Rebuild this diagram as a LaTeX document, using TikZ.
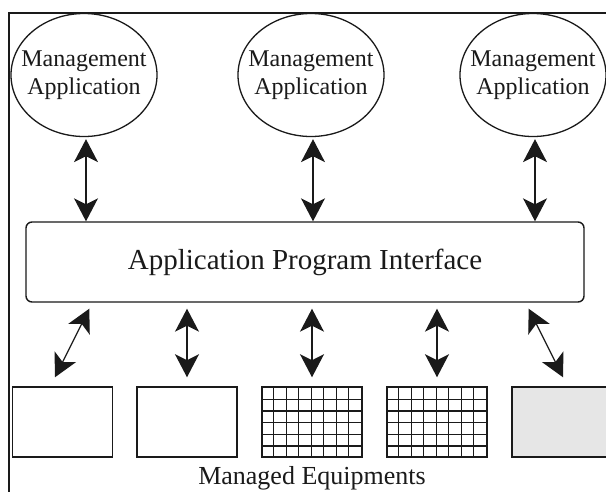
\documentclass[tikz,border=0pt]{standalone}
\usepackage{fontspec}
\setmainfont{Liberation Serif}
\usetikzlibrary{shapes.geometric,arrows.meta,calc}
\definecolor{ink}{HTML}{1A1A1A}
\definecolor{lightfill}{HTML}{E6E6E6}
\tikzset{
  mgmt/.style={ellipse, draw=ink, line width=1.3pt, minimum width=146pt, minimum height=123pt,
    inner xsep=-45pt, inner ysep=-22pt, align=center, text=ink, font=\fontsize{24}{28}\selectfont},
  apibox/.style={rectangle, rounded corners=6pt, draw=ink, line width=1.4pt,
    minimum width=558pt, minimum height=80pt, inner sep=0pt, text=ink,
    font=\fontsize{29}{34}\selectfont},
  equip/.style={rectangle, draw=ink, line width=1.5pt, minimum width=100pt, minimum height=70pt, inner sep=0pt},
  gridline/.style={draw=ink, line width=1.2pt},
  biarrow/.style={draw=ink, line width=1.3pt, {Stealth[length=23pt,width=24pt,inset=6pt]}-{Stealth[length=23pt,width=24pt,inset=6pt]}},
  frameline/.style={draw=ink, line width=1.8pt},
  caption/.style={text=ink, font=\fontsize{26}{30}\selectfont, inner sep=0pt, anchor=base}
}
\begin{document}
\begin{tikzpicture}[x=1pt,y=-1pt]
\useasboundingbox (0,0) rectangle (606,491);
\clip (0,0) rectangle (606,491);
\fill[white] (0,0) rectangle (606,491);
% frame
\draw[frameline] (9,495) -- (9,13) -- (610,13);
% management applications
\node[mgmt] (m1) at (84,75) {Management\\Application};
\node[mgmt] (m2) at (311,75) {Management\\Application};
\node[mgmt] (m3) at (533,75) {Management\\Application};
% API
\node[apibox] (api) at (305,262) {Application Program Interface};
% equipments
\node[equip] (e1) at (62.5,422) {};
\node[equip] (e2) at (187,422) {};
\node[equip] (e3) at (312,422) {};
\node[equip] (e4) at (437,422) {};
\node[equip, fill=lightfill] (e5) at (562,422) {};
% grids
\foreach \b in {e3,e4}{
  \foreach \k in {1,...,7}{
    \draw[gridline] ([xshift=\k*12.5pt]\b.south west) -- ([xshift=\k*12.5pt]\b.north west);
  }
  \foreach \k in {1,...,5}{
    \draw[gridline] ([yshift=\k*11.6667pt]\b.south west) -- ([yshift=\k*11.6667pt]\b.south east);
  }
}
% top arrows
\draw[biarrow, shorten <=2pt] ([xshift=2pt]m1.south) -- ([xshift=2pt]m1.south |- api.north);
\draw[biarrow, shorten <=2pt] ([xshift=2pt]m2.south) -- ([xshift=2pt]m2.south |- api.north);
\draw[biarrow, shorten <=2pt] ([xshift=2pt]m3.south) -- ([xshift=2pt]m3.south |- api.north);
% bottom arrows
\draw[biarrow] ([xshift=64pt,yshift=-6pt]api.south west) -- ([xshift=-7.5pt,yshift=9pt]e1.north);
\draw[biarrow, shorten <=6pt, shorten >=9pt] (e2.north |- api.south) -- (e2.north);
\draw[biarrow, shorten <=6pt, shorten >=9pt] (e3.north |- api.south) -- (e3.north);
\draw[biarrow, shorten <=6pt, shorten >=9pt] (e4.north |- api.south) -- (e4.north);
\draw[biarrow] ([xshift=-56pt,yshift=-6pt]api.south east) -- ([xshift=1pt,yshift=9pt]e5.north);
% caption
\node[caption] (cap) at (312,484.5) {Managed Equipments};
\end{tikzpicture}
\end{document}
